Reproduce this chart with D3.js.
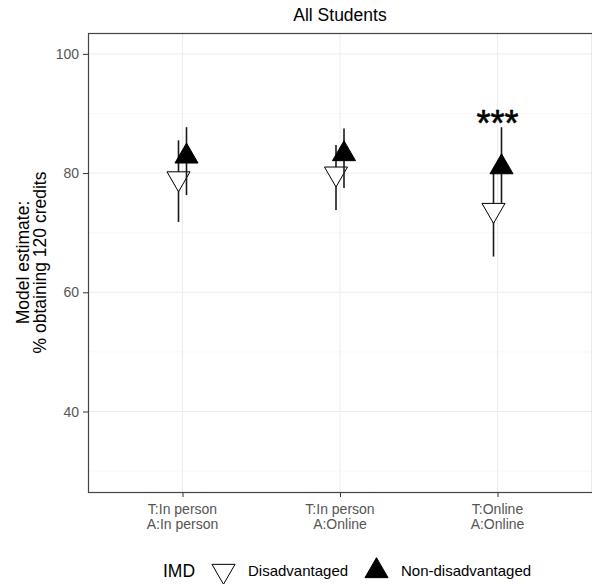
<html>

<head>
    <style>
        body { margin: 0; background: #fff; }
        text { font-family: "Liberation Sans", Arial, sans-serif; }
    </style>
</head>
<body>
    <svg id="container" width="592" height="584"></svg>
</body>
<script src="https://cdn.jsdelivr.net/npm/d3@7"></script>
<script>
    let categories = ["T:In person\nA:In person", "T:In person\nA:Online", "T:Online\nA:Online"]
    let groups = ["Disadvantaged", "Non-disadvantaged"]
    let disEstimate = [79.1, 79.9, 73.8]
    let disLower = [71.8, 73.8, 66.0]
    let disUpper = [85.5, 84.7, 80.2]
    let nonEstimate = [82.8, 83.2, 81.0]
    let nonLower = [76.3, 77.5, 75.0]
    let nonUpper = [87.7, 87.5, 87.7]
    let yTicks = [40, 60, 80, 100]
    let yMinor = [30, 50, 70, 90]
    let sigLabels = [{ cat: categories[2], label: "***", y: 86.3 }]

    let rows = []
    categories.forEach((c, i) => {
        rows.push({ cat: c, group: groups[0], est: disEstimate[i], lo: disLower[i], hi: disUpper[i] })
        rows.push({ cat: c, group: groups[1], est: nonEstimate[i], lo: nonLower[i], hi: nonUpper[i] })
    })

    let container = d3.select("#container")
    let pLeft = 88, pRight = 592, pTop = 33, pBottom = 492

    let x = d3.scalePoint().domain(categories).range([pLeft, pRight]).padding(0.6)
    let dodge = d3.scalePoint().domain(groups).range([-4, 4])
    let y = d3.scaleLinear().domain([26.5, 103.5]).range([pBottom, pTop])

    // grid
    container.append("g").selectAll("line").data(yMinor).enter().append("line")
        .attr("x1", pLeft).attr("x2", pRight)
        .attr("y1", d => y(d)).attr("y2", d => y(d))
        .attr("stroke", "#f4f4f4").attr("stroke-width", 0.6)
    container.append("g").selectAll("line").data(yTicks).enter().append("line")
        .attr("x1", pLeft).attr("x2", pRight)
        .attr("y1", d => y(d)).attr("y2", d => y(d))
        .attr("stroke", "#ececec").attr("stroke-width", 1)
    container.append("g").selectAll("line").data(categories).enter().append("line")
        .attr("x1", d => x(d)).attr("x2", d => x(d))
        .attr("y1", pTop).attr("y2", pBottom)
        .attr("stroke", "#ececec").attr("stroke-width", 1)

    // axes
    let yAxis = container.append("g")
        .attr("transform", `translate(${pLeft},0)`)
        .call(d3.axisLeft(y).tickValues(yTicks).tickSize(5).tickPadding(4))
    yAxis.select(".domain").remove()
    yAxis.selectAll("line").attr("stroke", "#333")
    yAxis.selectAll("text").attr("fill", "#555").style("font-size", "14px")
        .style("font-family", "'Liberation Sans', Arial, sans-serif")

    let xAxis = container.append("g")
        .attr("transform", `translate(0,${pBottom})`)
        .call(d3.axisBottom(x).tickSize(5).tickFormat(""))
    xAxis.select(".domain").remove()
    xAxis.selectAll("line").attr("stroke", "#333")

    let xLabels = container.append("g").selectAll("text").data(categories).enter().append("text")
        .attr("x", d => x(d)).attr("y", 514)
        .attr("text-anchor", "middle").attr("fill", "#555").style("font-size", "14px")
    xLabels.selectAll("tspan").data(d => d.split("\n")).enter().append("tspan")
        .attr("x", function () { return d3.select(this.parentNode).attr("x") })
        .attr("dy", (d, i) => i == 0 ? 0 : 15)
        .text(d => d)

    // point ranges: line then point, per row
    let tri = (cx, cy, r, down) => {
        let xc = r * 0.866, yc = r * 0.5
        if (down) return `M${cx},${cy + r}L${cx + xc},${cy - yc}L${cx - xc},${cy - yc}Z`
        return `M${cx},${cy - r}L${cx + xc},${cy + yc}L${cx - xc},${cy + yc}Z`
    }
    let marks = container.append("g")
    rows.forEach(d => {
        let cx = x(d.cat) + dodge(d.group)
        marks.append("line")
            .attr("x1", cx).attr("x2", cx)
            .attr("y1", y(d.lo)).attr("y2", y(d.hi))
            .attr("stroke", "#1a1a1a").attr("stroke-width", 1.6)
        let down = d.group == groups[0]
        marks.append("path")
            .attr("d", tri(cx, y(d.est), 13.3, down))
            .attr("fill", down ? "#fff" : "#000")
            .attr("stroke", "#000").attr("stroke-width", 1)
    })

    container.append("g").selectAll("text").data(sigLabels).enter().append("text")
        .attr("x", d => x(d.cat)).attr("y", d => y(d.y))
        .attr("text-anchor", "middle").style("font-size", "36px")
        .attr("stroke", "#000").attr("stroke-width", 0.6)
        .text(d => d.label)

    // panel border
    container.append("rect")
        .attr("x", pLeft + 0.5).attr("y", pTop + 0.5)
        .attr("width", pRight - pLeft).attr("height", pBottom - pTop)
        .attr("fill", "none").attr("stroke", "#444").attr("stroke-width", 1.2)

    // titles
    container.append("text")
        .attr("x", (pLeft + pRight) / 2).attr("y", 21)
        .attr("text-anchor", "middle").style("font-size", "17.5px")
        .text("All Students")

    let yTitle = container.append("text")
        .attr("transform", `translate(0,${(pTop + pBottom) / 2}) rotate(-90)`)
        .attr("text-anchor", "middle").style("font-size", "17.5px")
    yTitle.append("tspan").attr("x", 0).attr("y", 29).text("Model estimate:")
    yTitle.append("tspan").attr("x", 0).attr("y", 46).text("% obtaining 120 credits")

    // legend
    let legY = 571
    container.append("text").attr("x", 163).attr("y", legY).attr("dy", "0.35em")
        .style("font-size", "17.5px").text("IMD")
    let legX = [223.5, 376.5]
    groups.forEach((g, i) => {
        let down = i == 0
        container.append("path")
            .attr("d", tri(legX[i], legY, 13.3, down))
            .attr("fill", down ? "#fff" : "#000")
            .attr("stroke", "#000").attr("stroke-width", 1)
        container.append("text").attr("x", legX[i] + 24.5).attr("y", legY).attr("dy", "0.35em")
            .style("font-size", "15px").text(g)
    })
</script>

</html>
